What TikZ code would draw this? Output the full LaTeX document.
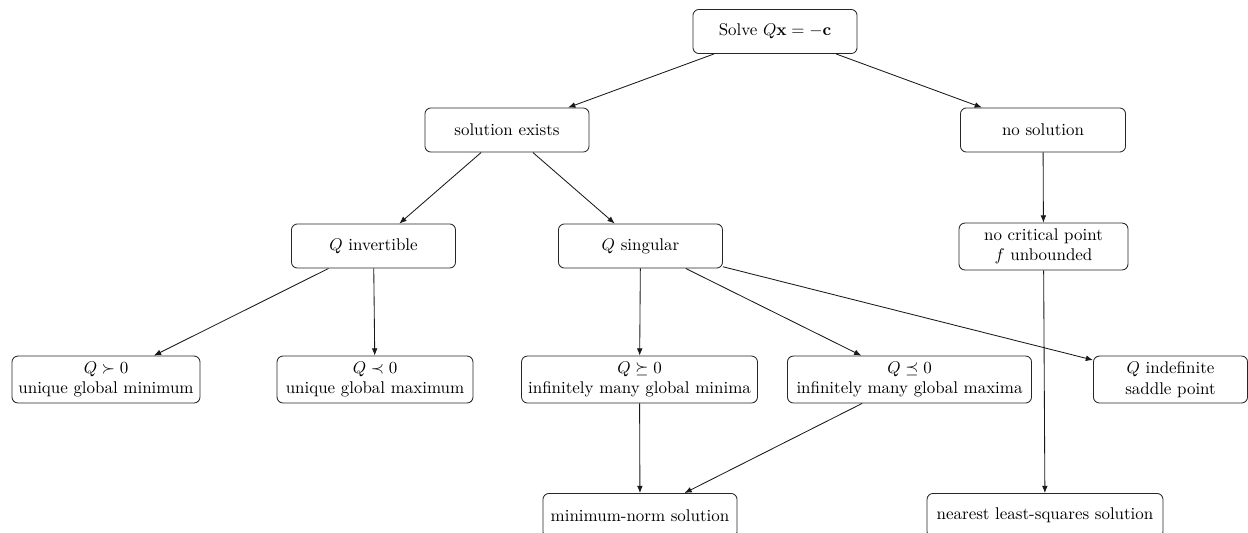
\documentclass[tikz,border=0pt]{standalone}
\usetikzlibrary{arrows.meta}
\begin{document}
\begin{tikzpicture}[x=0.59pt,y=-0.59pt,
  box/.style={draw=black!85, line width=0.5pt, rounded corners=3.5pt, align=center,
    minimum height=26pt, inner sep=2pt},
  tbox/.style={box, minimum height=27.7pt},
  arr/.style={-{Latex[length=4.3pt,width=3.4pt]}, line width=0.5pt, black!90}]
\useasboundingbox (0,0) rectangle (1248,532);
\node[box, minimum width=96.8pt] (solve) at (775,31.5) {Solve $Q\mathbf{x} = -\mathbf{c}$};
\node[box, minimum width=96.8pt] (solex) at (507,130) {solution exists};
\node[box, minimum width=97.4pt] (nosol) at (1043,130) {no solution};
\node[box, minimum width=96.8pt] (inv) at (373.5,246) {$Q$ invertible};
\node[box, minimum width=96.8pt] (sing) at (640.5,246) {$Q$ singular};
\node[tbox, minimum width=99.7pt] (nocrit) at (1043.5,246.5) {no critical point\\ $f$ unbounded};
\node[tbox, minimum width=110.9pt] (pd) at (106,379.5) {$Q \succ 0$\\ unique global minimum};
\node[tbox, minimum width=115.6pt] (nd) at (375,379.5) {$Q \prec 0$\\ unique global maximum};
\node[tbox, minimum width=139.2pt] (psd) at (639.5,379.5) {$Q \succeq 0$\\ infinitely many global minima};
\node[tbox, minimum width=144pt] (nsd) at (909.5,379.5) {$Q \preceq 0$\\ infinitely many global maxima};
\node[tbox, minimum width=90.9pt] (indef) at (1170.5,379.5) {$Q$ indefinite\\ saddle point};
\node[box, minimum width=114.5pt] (mnorm) at (640,515.5) {minimum-norm solution};
\node[box, minimum width=139.2pt] (lsq) at (1045,515.5) {nearest least-squares solution};
\draw[arr] (solve) -- (solex);
\draw[arr] (solve) -- (nosol);
\draw[arr] (solex) -- (inv);
\draw[arr] (solex) -- (sing);
\draw[arr] (nosol) -- (nocrit);
\draw[arr] (inv) -- (pd);
\draw[arr] (inv) -- (nd);
\draw[arr] (sing) -- (psd);
\draw[arr] (sing) -- (nsd);
\draw[arr] (sing) -- (indef);
\draw[arr] (nocrit) -- (lsq);
\draw[arr] (psd) -- (mnorm);
\draw[arr] (nsd) -- (mnorm);
\end{tikzpicture}
\end{document}
